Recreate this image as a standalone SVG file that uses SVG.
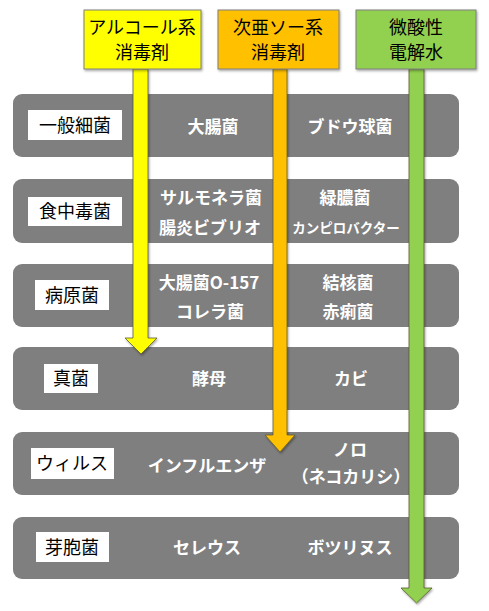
<svg xmlns="http://www.w3.org/2000/svg" width="489" height="611" viewBox="0 0 489 611">
<defs>
<filter id="sh" x="-10%" y="-10%" width="130%" height="130%">
<feDropShadow dx="1" dy="1.5" stdDeviation="1" flood-color="#000" flood-opacity="0.35"/>
</filter>
</defs>
<style>
.bar{fill:#7F7F7F;}
.lbl{fill:#FFFFFF;}
.t{font-family:"Noto Sans CJK JP","Noto Sans",sans-serif;text-anchor:middle;}
.lt{font-size:18px;fill:#000;}
.wt{font-size:17px;fill:#FFF;font-weight:bold;}
.ht{font-size:18px;fill:#000;}
.hdr{stroke:#7F7F7F;stroke-width:1;}
.arr{stroke:#5a5a30;stroke-width:0.8;}
</style>
<rect width="489" height="611" fill="#FFFFFF"/>
<g id="row-ippan">
<rect class="bar" x="13" y="94" width="446" height="63" rx="9"/>
<rect class="lbl" x="28" y="110" width="94" height="30"/>
<text class="t lt" x="75" y="132">一般細菌</text>
<text class="t wt" x="213" y="133">大腸菌</text>
<text class="t wt" x="350" y="133">ブドウ球菌</text>
</g>
<g id="row-shokuchudoku">
<rect class="bar" x="13" y="179" width="446" height="64" rx="9"/>
<rect class="lbl" x="28" y="197" width="94" height="29"/>
<text class="t lt" x="75" y="218">食中毒菌</text>
<text class="t wt" x="211" y="204">サルモネラ菌</text>
<text class="t wt" x="210" y="234">腸炎ビブリオ</text>
<text class="t wt" x="345" y="204">緑膿菌</text>
<text class="t wt" x="346" y="233" style="font-size:13.5px">カンピロバクター</text>
</g>
<g id="row-byogen">
<rect class="bar" x="13" y="264" width="446" height="63" rx="9"/>
<rect class="lbl" x="35" y="280" width="74" height="30"/>
<text class="t lt" x="72" y="302">病原菌</text>
<text class="t wt" x="209" y="289">大腸菌O-157</text>
<text class="t wt" x="210" y="318">コレラ菌</text>
<text class="t wt" x="348" y="289">結核菌</text>
<text class="t wt" x="348" y="318">赤痢菌</text>
</g>
<g id="row-shinkin">
<rect class="bar" x="13" y="347" width="446" height="63" rx="9"/>
<rect class="lbl" x="44" y="364" width="54" height="29"/>
<text class="t lt" x="71" y="385">真菌</text>
<text class="t wt" x="209" y="385">酵母</text>
<text class="t wt" x="351" y="385">カビ</text>
</g>
<g id="row-virus">
<rect class="bar" x="13" y="432" width="446" height="63" rx="9"/>
<rect class="lbl" x="31" y="448" width="83" height="31"/>
<text class="t lt" x="72" y="470">ウィルス</text>
<text class="t wt" x="207" y="472">インフルエンザ</text>
<text class="t wt" x="350" y="456">ノロ</text>
<text class="t wt" x="351" y="483">（ネコカリシ）</text>
</g>
<g id="row-gaho">
<rect class="bar" x="13" y="517" width="446" height="62" rx="9"/>
<rect class="lbl" x="36" y="532" width="73" height="30"/>
<text class="t lt" x="72" y="554">芽胞菌</text>
<text class="t wt" x="207" y="554">セレウス</text>
<text class="t wt" x="350" y="554">ボツリヌス</text>
</g>
<g id="connectors">
<polygon class="arr" fill="#FFFF00" filter="url(#sh)" points="133,69 148,69 148,338 157,338 141,354 125,338 133,338"/>
<polygon class="arr" fill="#FFC000" filter="url(#sh)" points="273,69 287,69 287,435 295,435 280,452 265,435 273,435"/>
<polygon class="arr" fill="#92D050" filter="url(#sh)" points="409,69 424,69 424,588 432,588 416.5,603 401,588 409,588"/>
</g>
<g id="hdr-alcohol">
<rect class="hdr" fill="#FFFF00" filter="url(#sh)" x="84" y="10" width="117" height="59"/>
<text class="t ht" x="142" y="34">アルコール系</text>
<text class="t ht" x="142" y="59">消毒剤</text>
</g>
<g id="hdr-jia">
<rect class="hdr" fill="#FFC000" filter="url(#sh)" x="218" y="10" width="121" height="59"/>
<text class="t ht" x="278" y="34">次亜ソー系</text>
<text class="t ht" x="278" y="59">消毒剤</text>
</g>
<g id="hdr-bisan">
<rect class="hdr" fill="#92D050" filter="url(#sh)" x="356" y="10" width="120" height="59"/>
<text class="t ht" x="416" y="34">微酸性</text>
<text class="t ht" x="416" y="59">電解水</text>
</g>
</svg>
